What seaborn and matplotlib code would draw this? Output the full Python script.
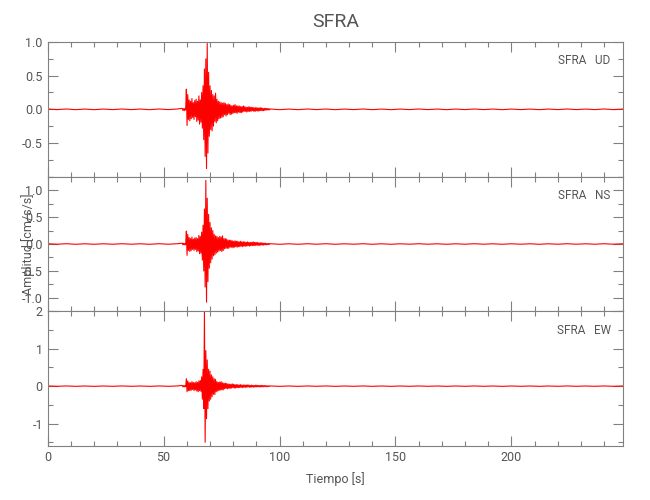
import numpy as np
import pandas as pd
import matplotlib
matplotlib.use("Agg")
import matplotlib.pyplot as plt
from matplotlib.ticker import MultipleLocator, FormatStrFormatter
import seaborn as sns

sns.set_style("ticks")
plt.rcParams['font.family'] = ['Roboto', 'DejaVu Sans']

# station / components
station = "SFRA"
components = ["UD", "NS", "EW"]

# sampling of the traces
t_quiet_step = 4.0      # s, quiet parts
t_event_start = 58.0    # s
t_event_step = 0.3      # s, around the event
t_post_start = 96.0     # s
t_end = 248.0

# background noise before and after the event (cm/s/s)
quiet_pre = [0.005, -0.004, 0.005, -0.005, 0.004, -0.005, 0.004, -0.004,
             0.005, -0.004, 0.004, -0.005, 0.005, -0.004, 0.005]
quiet_post = [0.005, -0.005, 0.004, -0.005, 0.005, -0.004, 0.005, -0.005,
              0.004, -0.004, 0.005, -0.005, 0.004, -0.005, 0.004, -0.004,
              0.005, -0.004, 0.004, -0.005, 0.004, -0.004, 0.005, -0.004,
              0.004, -0.005, 0.004, -0.004, 0.004, -0.005, 0.004, -0.004,
              0.005, -0.004, 0.004, -0.004, 0.005, -0.004, 0.004]

# event part, one value every 0.3 s from 58 s
ud_event = [0.015, -0.015, 0.01, -0.02, 0.015, -0.01, 0.30, -0.24, 0.22, -0.15,
            0.14, -0.17, 0.12, -0.14, 0.16, -0.12, 0.10, -0.15, 0.13, -0.11,
            0.15, -0.18, 0.12, -0.16, 0.20, -0.22, 0.14, -0.19, 0.25, -0.28,
            0.35, -0.45, 0.60, -0.70, 0.75, -0.88, 0.98, -0.65, 0.55, -0.40,
            0.35, -0.30, 0.28, -0.32, 0.22, -0.25, 0.20, -0.18, 0.24, -0.20,
            0.15, -0.17, 0.12, -0.14, 0.11, -0.13, 0.10, -0.12, 0.09, -0.11,
            0.10, -0.08, 0.09, -0.10, 0.07, -0.08, 0.08, -0.06, 0.07, -0.08,
            0.06, -0.07, 0.05, -0.06, 0.06, -0.05, 0.07, -0.05, 0.05, -0.06,
            0.05, -0.04, 0.05, -0.05, 0.04, -0.05, 0.04, -0.04, 0.05, -0.03,
            0.04, -0.03, 0.03, -0.04, 0.03, -0.03, 0.04, -0.03, 0.03, -0.03,
            0.03, -0.02, 0.03, -0.03, 0.02, -0.03, 0.03, -0.02, 0.02, -0.03,
            0.02, -0.02, 0.025, -0.02, 0.02, -0.02, 0.015, -0.02, 0.015, -0.015,
            0.015, -0.01, 0.015, -0.01, 0.01, -0.01, 0.008]
ns_event = [0.015, -0.015, 0.015, -0.015, 0.01, -0.015, 0.24, -0.21, 0.18, -0.12,
            0.12, -0.14, 0.10, -0.12, 0.13, -0.10, 0.09, -0.12, 0.11, -0.10,
            0.12, -0.14, 0.10, -0.13, 0.16, -0.18, 0.14, -0.17, 0.22, -0.30,
            0.35, -0.50, 0.65, -0.80, 1.18, -1.08, 0.85, -0.70, 0.55, -0.45,
            0.40, -0.35, 0.30, -0.28, 0.25, -0.22, 0.18, -0.20, 0.15, -0.17,
            0.14, -0.15, 0.12, -0.13, 0.14, -0.12, 0.13, -0.14, 0.15, -0.12,
            0.10, -0.09, 0.10, -0.08, 0.09, -0.08, 0.07, -0.08, 0.07, -0.06,
            0.07, -0.06, 0.06, -0.07, 0.05, -0.06, 0.06, -0.05, 0.05, -0.06,
            0.05, -0.05, 0.04, -0.05, 0.05, -0.04, 0.04, -0.05, 0.04, -0.04,
            0.04, -0.04, 0.03, -0.04, 0.04, -0.03, 0.03, -0.04, 0.03, -0.03,
            0.03, -0.03, 0.04, -0.03, 0.03, -0.03, 0.03, -0.02, 0.03, -0.03,
            0.02, -0.025, 0.025, -0.02, 0.02, -0.02, 0.02, -0.02, 0.015, -0.015,
            0.015, -0.015, 0.01, -0.015, 0.01, -0.01, 0.008]
ew_event = [0.02, -0.02, 0.015, -0.02, 0.02, -0.015, 0.20, -0.15, 0.14, -0.12,
            0.10, -0.12, 0.09, -0.11, 0.12, -0.09, 0.10, -0.12, 0.09, -0.10,
            0.12, -0.13, 0.10, -0.15, 0.14, -0.12, 0.15, -0.14, 0.25, -0.35,
            0.45, -0.60, 2.00, -1.50, 0.95, -0.87, 0.70, -0.60, 0.45, -0.40,
            0.40, -0.35, 0.30, -0.28, 0.25, -0.22, 0.20, -0.22, 0.18, -0.15,
            0.12, -0.13, 0.10, -0.12, 0.11, -0.10, 0.12, -0.10, 0.09, -0.10,
            0.08, -0.07, 0.08, -0.06, 0.07, -0.07, 0.06, -0.06, 0.05, -0.06,
            0.05, -0.05, 0.06, -0.04, 0.05, -0.05, 0.04, -0.05, 0.04, -0.04,
            0.04, -0.04, 0.03, -0.04, 0.04, -0.03, 0.03, -0.04, 0.03, -0.03,
            0.03, -0.03, 0.03, -0.03, 0.03, -0.02, 0.03, -0.03, 0.02, -0.03,
            0.03, -0.02, 0.02, -0.03, 0.02, -0.02, 0.03, -0.02, 0.02, -0.02,
            0.02, -0.02, 0.02, -0.02, 0.02, -0.02, 0.02, -0.015, 0.015, -0.015,
            0.015, -0.015, 0.01, -0.015, 0.01, -0.01, 0.008]
events = {"UD": ud_event, "NS": ns_event, "EW": ew_event}

# axes settings per panel
ylims = {"UD": (-1.0, 1.0), "NS": (-1.25, 1.25), "EW": (-1.6, 2.0)}
yticks = {"UD": [-0.5, 0.0, 0.5, 1.0], "NS": [-1.0, -0.5, 0.0, 0.5, 1.0],
          "EW": [-1, 0, 1, 2]}
yminor = {"UD": 0.25, "NS": 0.25, "EW": 0.5}
yfmt = {"UD": "%.1f", "NS": "%.1f", "EW": "%d"}
xticks = [0, 50, 100, 150, 200]

# build one long table
rows = []
for c in components:
    t_pre = np.arange(len(quiet_pre)) * t_quiet_step
    t_ev = t_event_start + np.arange(len(events[c])) * t_event_step
    t_po = t_post_start + np.arange(len(quiet_post)) * t_quiet_step
    t = np.concatenate([t_pre, t_ev, t_po])
    a = np.concatenate([quiet_pre, events[c], quiet_post])
    rows.append(pd.DataFrame({"t": t, "amp": a, "comp": c}))
df = pd.concat(rows, ignore_index=True)

txt = "#555555"
axc = "#808080"

fig, axes = plt.subplots(3, 1, figsize=(6.5, 5), dpi=100, sharex=True)
fig.subplots_adjust(left=0.0734, right=0.958, top=0.916, bottom=0.108, hspace=0)

for ax, c in zip(axes, components):
    sns.lineplot(data=df[df.comp == c], x="t", y="amp", ax=ax, color="red",
                 lw=0.8, estimator=None, sort=False)
    ax.set_xlim(0, t_end)
    ax.set_ylim(*ylims[c])
    ax.set_yticks(yticks[c])
    ax.yaxis.set_minor_locator(MultipleLocator(yminor[c]))
    ax.yaxis.set_major_formatter(FormatStrFormatter(yfmt[c]))
    ax.set_xticks(xticks)
    ax.xaxis.set_minor_locator(MultipleLocator(10))
    ax.set_xlabel("")
    ax.set_ylabel("")
    ax.tick_params(which="both", direction="in", top=True, right=True,
                   color=axc, labelcolor=txt, labelsize=9, width=0.8)
    ax.tick_params(which="major", length=7)
    ax.tick_params(which="minor", length=3.5)
    for s in ax.spines.values():
        s.set_color(axc)
        s.set_linewidth(0.8)
    ax.text(0.979, 0.86, station + "   " + c, transform=ax.transAxes,
            ha="right", va="center", fontsize=8.5, color=txt)

axes[-1].set_xlabel("Tiempo [s]", fontsize=9, color=txt, labelpad=6)
fig.text(28 / 650, 1 - 244 / 500, "Amplitud [cm/s/s]", rotation=90,
         ha="center", va="center", fontsize=9, color=txt)
fig.suptitle(station, x=0.516, y=1 - 22 / 500, va="center", fontsize=14,
             color=txt)

fig.savefig("out.png", dpi=100)
